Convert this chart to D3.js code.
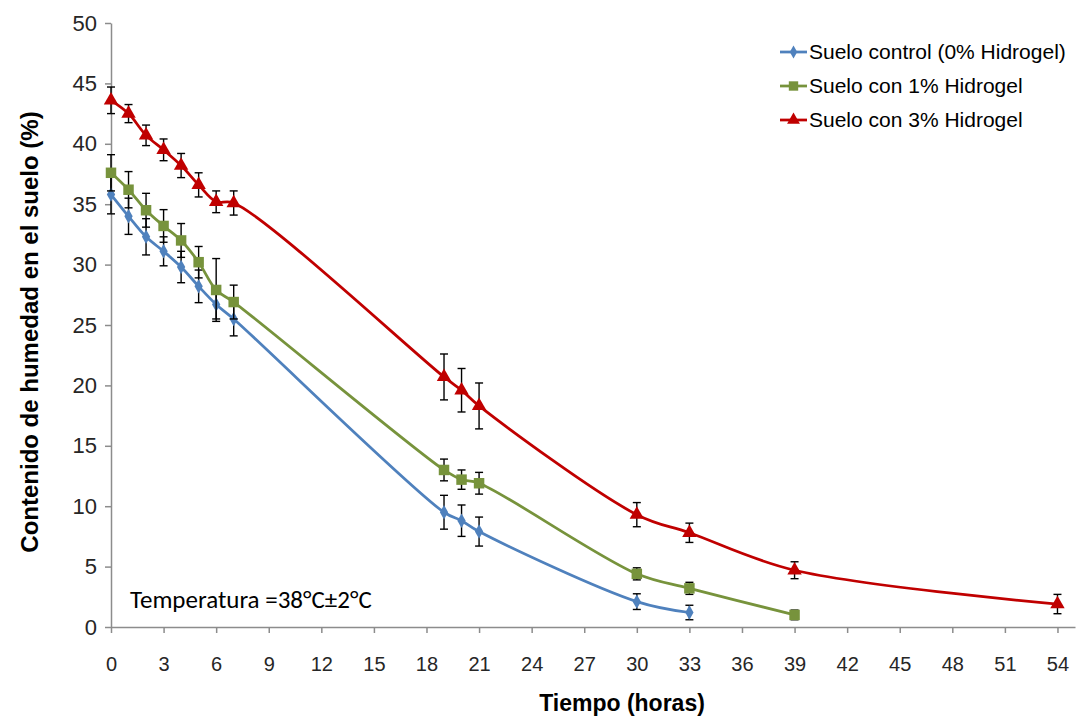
<!DOCTYPE html>
<html>
<head>
<meta charset="utf-8">
<script src="https://cdn.jsdelivr.net/npm/d3@7"></script>
<style>
  body { margin: 0; background: #fff; }
  #chart svg { display: block; }
</style>
</head>
<body>
<div id="chart"></div>
<script>
// hours of each reading
const tiempoControl = [0, 1, 2, 3, 4, 5, 6, 7, 19, 20, 21, 30, 33];
const tiempo1 = [0, 1, 2, 3, 4, 5, 6, 7, 19, 20, 21, 30, 33, 39];
const tiempo3 = [0, 1, 2, 3, 4, 5, 6, 7, 19, 20, 21, 30, 33, 39, 54];

// soil moisture (%) and std error
const control = [35.8, 34.0, 32.3, 31.1, 29.8, 28.2, 26.7, 25.5, 9.5, 8.8, 7.9, 2.1, 1.2];
const controlErr = [1.6, 1.5, 1.5, 1.2, 1.3, 1.35, 1.2, 1.4, 1.4, 1.3, 1.2, 0.65, 0.6];
const hidrogel1 = [37.6, 36.2, 34.5, 33.2, 32.0, 30.2, 27.9, 26.9, 13.0, 12.2, 11.9, 4.4, 3.2, 1.0];
const hidrogel1Err = [1.5, 1.5, 1.4, 1.35, 1.4, 1.3, 2.6, 1.4, 0.9, 0.8, 0.9, 0.5, 0.5, 0.4];
const hidrogel3 = [43.6, 42.5, 40.7, 39.5, 38.2, 36.6, 35.2, 35.1, 20.7, 19.6, 18.3, 9.3, 7.8, 4.7, 1.9];
const hidrogel3Err = [1.1, 0.75, 0.85, 0.9, 1.0, 1.0, 0.9, 1.0, 1.9, 1.8, 1.9, 1.0, 0.8, 0.7, 0.8];

const seriesNames = ["Suelo control (0% Hidrogel)", "Suelo con 1% Hidrogel", "Suelo con 3% Hidrogel"];
const xTicks = d3.range(0, 55, 3);
const yTicks = d3.range(0, 51, 5);

const width = 1086, height = 719;
const margin = { top: 23, right: 11, bottom: 92, left: 111 };

const svg = d3.select("#chart").append("svg")
    .attr("width", width)
    .attr("height", height);

const x = d3.scaleLinear().domain([0, 55]).range([margin.left, width - margin.right]);
const y = d3.scaleLinear().domain([0, 50]).range([height - margin.bottom, margin.top]);

const axisColor = "#8c8c8c";
const labelFont = "'Liberation Sans', Arial, sans-serif";

// x axis
const gx = svg.append("g")
    .attr("transform", `translate(0, ${y(0)})`)
    .call(d3.axisBottom(x).tickValues(xTicks).tickSize(6).tickPadding(24).tickSizeOuter(0));
gx.select(".domain").attr("stroke", axisColor).attr("stroke-width", 1.5);
gx.selectAll(".tick line").attr("stroke", axisColor).attr("stroke-width", 1.5);
gx.selectAll(".tick text")
    .attr("font-family", labelFont).attr("font-size", 20).attr("fill", "#262626");

// y axis
const gy = svg.append("g")
    .attr("transform", `translate(${x(0)}, 0)`)
    .call(d3.axisLeft(y).tickValues(yTicks).tickSize(6).tickPadding(8).tickSizeOuter(0));
gy.select(".domain").attr("stroke", axisColor).attr("stroke-width", 1.5);
gy.selectAll(".tick line").attr("stroke", axisColor).attr("stroke-width", 1.5);
gy.selectAll(".tick text")
    .attr("font-family", labelFont).attr("font-size", 22).attr("fill", "#262626");

// axis titles
svg.append("text")
    .attr("x", 622).attr("y", 711)
    .attr("text-anchor", "middle")
    .attr("font-family", labelFont).attr("font-size", 23).attr("font-weight", "bold")
    .attr("fill", "#000")
    .text("Tiempo (horas)");

svg.append("text")
    .attr("transform", "translate(38, 332) rotate(-90)")
    .attr("text-anchor", "middle")
    .attr("font-family", labelFont).attr("font-size", 24).attr("font-weight", "bold")
    .attr("fill", "#000")
    .text("Contenido  de humedad  en el suelo (%)");

// annotation
svg.append("text")
    .attr("x", 130).attr("y", 608)
    .attr("font-family", "Carlito, Lato, 'Open Sans', sans-serif").attr("font-size", 25)
    .attr("fill", "#000")
    .text("Temperatura =38°C±2°C");

const series = [
    { name: seriesNames[0], t: tiempoControl, v: control, e: controlErr, color: "#4f81bd", symbol: d3.symbolDiamond, size: 60 },
    { name: seriesNames[1], t: tiempo1, v: hidrogel1, e: hidrogel1Err, color: "#77933c", symbol: d3.symbolSquare, size: 110 },
    { name: seriesNames[2], t: tiempo3, v: hidrogel3, e: hidrogel3Err, color: "#c00000", symbol: d3.symbolTriangle, size: 90 }
];

const line = d3.line()
    .x(d => x(d[0]))
    .y(d => y(d[1]))
    .curve(d3.curveCatmullRom.alpha(0.5));

series.forEach(s => {
    const pts = s.t.map((t, i) => [t, s.v[i], s.e[i]]);
    const g = svg.append("g");

    g.append("path")
        .datum(pts)
        .attr("fill", "none")
        .attr("stroke", s.color)
        .attr("stroke-width", 2.75)
        .attr("d", line);

    // error bars
    const eb = g.selectAll(".err").data(pts).join("g");
    eb.append("line")
        .attr("x1", d => x(d[0])).attr("x2", d => x(d[0]))
        .attr("y1", d => y(d[1] - d[2])).attr("y2", d => y(d[1] + d[2]))
        .attr("stroke", "#000").attr("stroke-width", 1.4);
    eb.append("line")
        .attr("x1", d => x(d[0]) - 4).attr("x2", d => x(d[0]) + 4)
        .attr("y1", d => y(d[1] + d[2])).attr("y2", d => y(d[1] + d[2]))
        .attr("stroke", "#000").attr("stroke-width", 1.4);
    eb.append("line")
        .attr("x1", d => x(d[0]) - 4).attr("x2", d => x(d[0]) + 4)
        .attr("y1", d => y(d[1] - d[2])).attr("y2", d => y(d[1] - d[2]))
        .attr("stroke", "#000").attr("stroke-width", 1.4);

    g.selectAll(".mark").data(pts).join("path")
        .attr("transform", d => `translate(${x(d[0])}, ${y(d[1])})`)
        .attr("d", d3.symbol(s.symbol, s.size))
        .attr("fill", s.color);
});

// legend
const legend = svg.append("g").attr("transform", "translate(780, 52)");
series.forEach((s, i) => {
    const row = legend.append("g").attr("transform", `translate(0, ${i * 34})`);
    row.append("line")
        .attr("x1", 0).attr("x2", 27).attr("y1", 0).attr("y2", 0)
        .attr("stroke", s.color).attr("stroke-width", 2.75);
    row.append("path")
        .attr("transform", "translate(13.5, 0)")
        .attr("d", d3.symbol(s.symbol, s.size * 0.8))
        .attr("fill", s.color);
    row.append("text")
        .attr("x", 29).attr("y", 7)
        .attr("font-family", labelFont).attr("font-size", 21)
        .attr("fill", "#000")
        .text(s.name);
});
</script>
</body>
</html>
